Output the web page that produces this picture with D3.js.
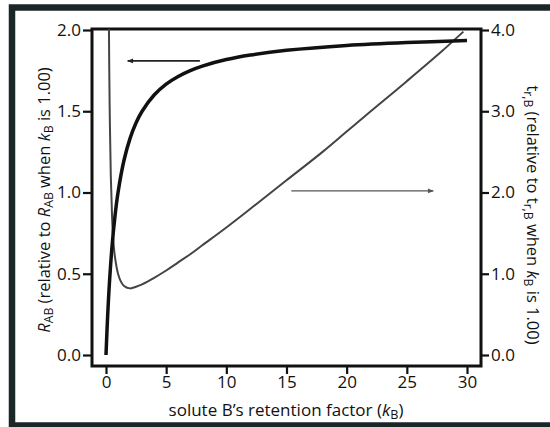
<!DOCTYPE html>
<html>
<head>
<meta charset="utf-8">
<script src="https://cdn.jsdelivr.net/npm/d3@7"></script>
<style>
  body { margin: 0; background: #fff; }
  text { font-family: "Open Sans", "Noto Sans", sans-serif; fill: #111; }
</style>
</head>
<body>
<div id="chart"></div>
<script>
// retention factor of B (x) and the two curves
var kR  = [0, 0.1, 0.25, 0.5, 0.75, 1, 1.5, 2, 2.5, 3, 4, 5, 6, 7, 8, 10, 12, 15, 20, 25, 30];
var rAB = [0, 0.18, 0.40, 0.667, 0.857, 1.00, 1.20, 1.333, 1.429, 1.50, 1.60, 1.667, 1.714, 1.75, 1.778, 1.818, 1.846, 1.875, 1.905, 1.923, 1.935];

var kT  = [0.24, 0.3, 0.4, 0.5, 0.6, 0.75, 1, 1.25, 1.5, 2, 2.5, 3, 4, 5, 6, 7, 8, 10, 12, 15, 18, 20, 22, 25, 28, 29.7];
var tRB = [4.1, 3.1, 2.2, 1.72, 1.42, 1.2, 1.0, 0.9, 0.85, 0.82, 0.84, 0.87, 0.95, 1.04, 1.14, 1.24, 1.35, 1.57, 1.80, 2.15, 2.50, 2.75, 3.00, 3.37, 3.75, 3.98];

var xTicks = [0, 5, 10, 15, 20, 25, 30];
var leftTicks = [0, 0.5, 1.0, 1.5, 2.0];
var rightTicks = [0, 1, 2, 3, 4];

// arrows [k start, k end, value on own axis]
var arrowLeft = [7.8, 1.8, 1.81];
var arrowRight = [15.4, 27.2, 2.02];

var W = 550, H = 427;
var box = {left: 92, right: 481, top: 29, bottom: 366};

var svg = d3.select("#chart").append("svg").attr("width", W).attr("height", H);

var x = d3.scaleLinear().domain([0, 30]).range([106, 467]);
var yL = d3.scaleLinear().domain([0, 2]).range([355, 30]);
var yR = d3.scaleLinear().domain([0, 4]).range([355, 30]);

// outer dark frame
svg.append("rect")
    .attr("x", 12).attr("y", 7.5)
    .attr("width", 600).attr("height", 418)
    .attr("fill", "none")
    .attr("stroke", "#1b2727")
    .attr("stroke-width", 6.5);

var defs = svg.append("defs");
defs.append("clipPath").attr("id", "clip")
  .append("rect")
    .attr("x", box.left).attr("y", box.top)
    .attr("width", box.right - box.left).attr("height", box.bottom - box.top);

function marker(id, col) {
    defs.append("marker")
        .attr("id", id)
        .attr("viewBox", "0 0 10 10")
        .attr("refX", 9).attr("refY", 5)
        .attr("markerWidth", 7).attr("markerHeight", 6)
        .attr("markerUnits", "userSpaceOnUse")
        .attr("orient", "auto")
      .append("path").attr("d", "M0,1 L10,5 L0,9 Z").attr("fill", col);
}
marker("head", "#222");
marker("headGray", "#555");

// axes
var font = 17;
var gx = svg.append("g").attr("transform", "translate(0," + box.bottom + ")")
    .call(d3.axisBottom(x).tickValues(xTicks).tickSize(8).tickSizeOuter(0).tickPadding(2));
var gl = svg.append("g").attr("transform", "translate(" + box.left + ",0)")
    .call(d3.axisLeft(yL).tickValues(leftTicks).tickFormat(d3.format(".1f")).tickSize(9).tickSizeOuter(0).tickPadding(2));
var gr = svg.append("g").attr("transform", "translate(" + box.right + ",0)")
    .call(d3.axisRight(yR).tickValues(rightTicks).tickFormat(d3.format(".1f")).tickSize(8).tickSizeOuter(0).tickPadding(2));

[gx, gl, gr].forEach(function(g) {
    g.select(".domain").remove();
    g.selectAll(".tick line").attr("stroke", "#111").attr("stroke-width", 2.2);
    g.selectAll(".tick text").attr("font-size", font).attr("fill", "#111")
        .attr("font-family", "'Open Sans', 'Noto Sans', sans-serif");
});

svg.append("rect")
    .attr("x", box.left).attr("y", box.top)
    .attr("width", box.right - box.left).attr("height", box.bottom - box.top)
    .attr("fill", "none").attr("stroke", "#111").attr("stroke-width", 3);

// curves
var plot = svg.append("g").attr("clip-path", "url(#clip)");

var lineR = d3.line().x(function(d) { return x(d[0]); }).y(function(d) { return yL(d[1]); })
    .curve(d3.curveCatmullRom.alpha(0.5));
var lineT = d3.line().x(function(d) { return x(d[0]); }).y(function(d) { return yR(d[1]); })
    .curve(d3.curveCatmullRom.alpha(0.5));

plot.append("path")
    .attr("d", lineT(d3.zip(kT, tRB)))
    .attr("fill", "none").attr("stroke", "#444").attr("stroke-width", 2);

plot.append("path")
    .attr("d", lineR(d3.zip(kR, rAB)))
    .attr("fill", "none").attr("stroke", "#111").attr("stroke-width", 3.5);

// arrows
svg.append("line")
    .attr("x1", x(arrowLeft[0])).attr("x2", x(arrowLeft[1]))
    .attr("y1", yL(arrowLeft[2])).attr("y2", yL(arrowLeft[2]))
    .attr("stroke", "#222").attr("stroke-width", 1.6)
    .attr("marker-end", "url(#head)");

svg.append("line")
    .attr("x1", x(arrowRight[0])).attr("x2", x(arrowRight[1]))
    .attr("y1", yR(arrowRight[2])).attr("y2", yR(arrowRight[2]))
    .attr("stroke", "#555").attr("stroke-width", 1.2)
    .attr("marker-end", "url(#headGray)");

// axis titles
function part(t, s, italic, sub, size) {
    var ts = t.append("tspan").text(s);
    if (italic) ts.attr("font-style", "italic");
    if (sub) ts.attr("font-size", size * 0.74).attr("baseline-shift", "-25%");
    return ts;
}

var fx = 17;
var xl = svg.append("text")
    .attr("x", 286).attr("y", 416)
    .attr("text-anchor", "middle").attr("font-size", fx);
part(xl, "solute B\u2019s retention factor (");
part(xl, "k", true);
part(xl, "B", false, true, fx);
part(xl, ")");

var fy = 16.5;
var ylab = svg.append("text")
    .attr("transform", "translate(50,200) rotate(-90)")
    .attr("text-anchor", "middle").attr("font-size", fy);
part(ylab, "R", true);
part(ylab, "AB", false, true, fy);
part(ylab, " (relative to ");
part(ylab, "R", true);
part(ylab, "AB", false, true, fy);
part(ylab, " when ");
part(ylab, "k", true);
part(ylab, "B", false, true, fy);
part(ylab, " is 1.00)");

var yrl = svg.append("text")
    .attr("transform", "translate(527,215) rotate(90)")
    .attr("text-anchor", "middle").attr("font-size", fy);
part(yrl, "t");
part(yrl, "r,B", false, true, fy);
part(yrl, " (relative to t");
part(yrl, "r,B", false, true, fy);
part(yrl, " when ");
part(yrl, "k", true);
part(yrl, "B", false, true, fy);
part(yrl, " is 1.00)");
</script>
</body>
</html>
